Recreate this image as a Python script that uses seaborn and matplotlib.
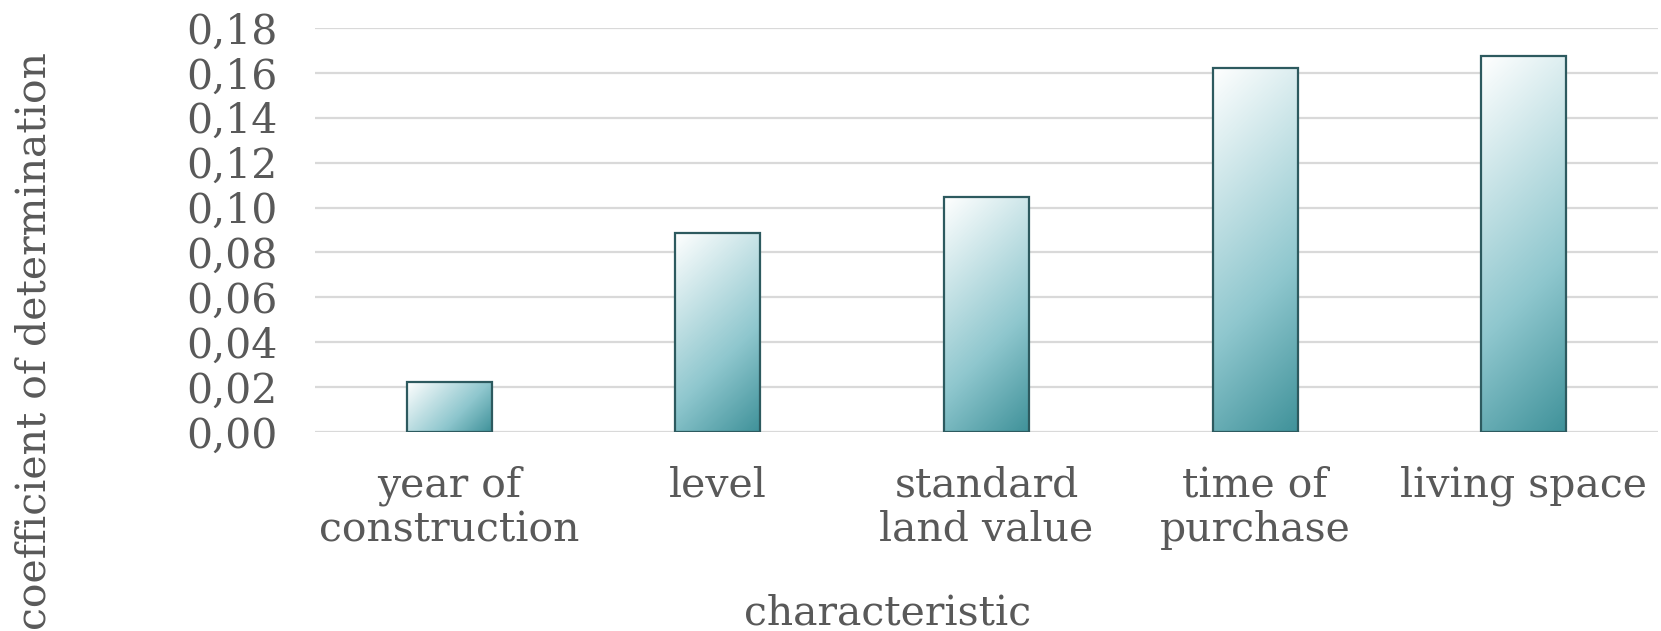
import numpy as np
import pandas as pd
import matplotlib
matplotlib.use("Agg")
import matplotlib.pyplot as plt
from matplotlib.colors import LinearSegmentedColormap
import seaborn as sns

# Data
categories = ["year of\nconstruction", "level", "standard\nland value",
              "time of\npurchase", "living space"]
r_squared = [0.0224, 0.0888, 0.1046, 0.1622, 0.1674]
y_ticks = [0.00, 0.02, 0.04, 0.06, 0.08, 0.10, 0.12, 0.14, 0.16, 0.18]

sns.set_theme(style="white")
plt.rcParams["font.family"] = ["DejaVu Serif"]

TEXT = "#595959"
FS = 29.5

W, H = 1661, 631
fig = plt.figure(figsize=(W / 100, H / 100), dpi=100)
ax = fig.add_axes([315 / W, 1 - 432 / H, 1343 / W, 404 / H])

df = pd.DataFrame({"characteristic": categories, "r2": r_squared})
sns.barplot(data=df, x="characteristic", y="r2", width=0.316,
            color="white", edgecolor="#2d5a5f", linewidth=1.6, ax=ax,
            zorder=3)

ax.set_xlim(-0.5, len(categories) - 0.5)
ax.set_ylim(0, 0.18)

# Diagonal (45 degrees in screen space) gradient clipped to each bar
cmap = LinearSegmentedColormap.from_list(
    "teal_grad", [(0.0, "#ffffff"), (0.62, "#8fc7ce"), (1.0, "#40929a")])
for p in list(ax.patches):
    x0, y0 = p.get_x(), p.get_y()
    w, h = p.get_width(), p.get_height()
    (px0, py0), (px1, py1) = ax.transData.transform([(x0, y0), (x0 + w, y0 + h)])
    wpx, hpx = abs(px1 - px0), abs(py1 - py0)
    nr = max(int(hpx), 2)
    nc = max(int(wpx), 2)
    yy = np.linspace(0, hpx, nr)[:, None]
    xx = np.linspace(0, wpx, nc)[None, :]
    grad = (xx + yy) / (wpx + hpx)
    im = ax.imshow(grad, cmap=cmap, vmin=0, vmax=1, origin="upper",
                   extent=(x0, x0 + w, y0, y0 + h), aspect="auto",
                   interpolation="bilinear", zorder=2)
    im.set_clip_path(p)
    p.set_facecolor("none")
    p.set_zorder(3)
ax.set_aspect("auto")
ax.set_xlim(-0.5, len(categories) - 0.5)
ax.set_ylim(0, 0.18)

# Grid and axes styling
ax.set_yticks(y_ticks)
ax.set_yticklabels([f"{t:.2f}".replace(".", ",") for t in y_ticks])
ax.yaxis.grid(True, color="#d9d9d9", linewidth=1.6)
ax.xaxis.grid(False)
ax.set_axisbelow(True)
for s in ax.spines.values():
    s.set_visible(False)
ax.tick_params(axis="both", length=0, labelsize=FS, labelcolor=TEXT)
ax.tick_params(axis="y", pad=27)
ax.tick_params(axis="x", pad=24)
for lab in ax.get_xticklabels():
    lab.set_linespacing(1.15)

ax.set_xlabel("characteristic", fontsize=FS, color=TEXT)
ax.set_ylabel("coefficient of determination", fontsize=FS, color=TEXT)
ax.xaxis.set_label_coords(0.4267, -0.45)
ax.xaxis.label.set_va("center")
ax.yaxis.set_label_coords(-0.2085, 0.225)
ax.yaxis.label.set_va("center")

fig.savefig("out.png", dpi=100, facecolor="white")
